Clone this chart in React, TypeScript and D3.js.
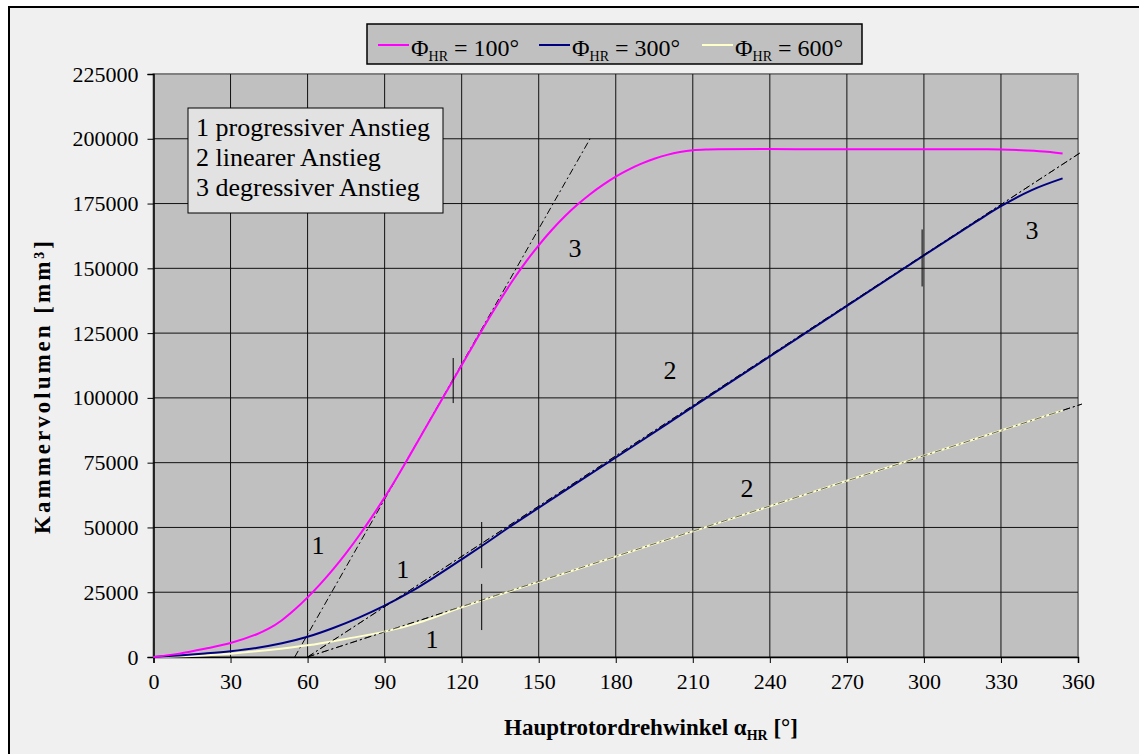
import React, { useRef, useEffect } from 'react';
import * as d3 from 'd3';

// Φ_HR = 100°
const anglesPink = [0, 10, 20, 30, 40, 45, 50, 55, 60, 65, 70, 75, 80, 85, 90, 95, 100, 105, 110, 115, 120, 125, 130, 135, 140, 145, 150, 155, 160, 165, 170, 175, 180, 185, 190, 195, 200, 205, 210, 215, 220, 250, 280, 310, 325, 330, 340, 348, 354];
const volumesPink = [0, 1300, 3200, 5400, 8700, 11000, 14200, 18300, 23000, 28200, 33900, 40100, 46800, 54000, 61600, 69700, 78200, 86800, 95400, 104000, 112600, 121200, 129700, 137800, 145500, 152500, 158900, 164700, 169900, 174500, 178600, 182200, 185400, 188100, 190400, 192300, 193800, 194900, 195600, 195900, 196000, 196000, 196000, 196000, 196000, 195900, 195500, 195000, 194300];

// Φ_HR = 300°
const anglesBlue = [0, 10, 20, 30, 40, 50, 60, 70, 80, 90, 100, 110, 120, 130, 140, 180, 210, 240, 270, 300, 320, 330, 342, 354];
const volumesBlue = [0, 600, 1350, 2250, 3500, 5300, 7800, 11200, 15200, 19800, 25100, 31200, 37700, 44300, 51100, 77000, 96500, 116000, 135500, 155000, 167800, 174000, 180200, 184700];

// Φ_HR = 600°
const anglesYellow = [0, 15, 30, 45, 60, 75, 90, 105, 120, 150, 180, 210, 240, 270, 300, 330, 354];
const volumesYellow = [0, 400, 1300, 2700, 4500, 7000, 9800, 13800, 19200, 29000, 38800, 48500, 58200, 68000, 77700, 87400, 95200];

const seriesNames = ['100°', '300°', '600°'];
const seriesColors = ['#ff00ff', '#000080', '#ffffcc'];

// tangents (dash-dot), [x0, y0, x1, y1]
const tangents = [
  [55, 0, 170, 200000],
  [60, 0, 361.5, 195000],
  [60, 0, 361.5, 97600],
];

// short vertical markers, [x, y0, y1]
const markers = [
  [116.7, 98000, 115400],
  [127.8, 34300, 52100],
  [127.8, 10400, 28200],
  [299.3, 143000, 165000],
];

// phase numbers on the curves
const phaseText = ['1', '1', '1', '3', '2', '2', '3'];
const phaseX = [64.1, 97.1, 108.4, 164.1, 201.1, 231.1, 342.1];
const phaseY = [43200, 33600, 6600, 157800, 110700, 65200, 164700];

const noteLines = ['1 progressiver Anstieg', '2 linearer Anstieg', '3 degressiver Anstieg'];

const xTicks = d3.range(0, 361, 30);
const yTicks = d3.range(0, 225001, 25000);

const font = '"Liberation Serif", "Times New Roman", serif';

const App = () => {
  const xAxisRef = useRef(null);
  const yAxisRef = useRef(null);

  const left = 153.5, right = 1078, top = 74, bottom = 657;
  const x = d3.scaleLinear().domain([0, 360]).range([left, right]);
  const y = d3.scaleLinear().domain([0, 225000]).range([bottom, top]);

  const lineGen = d3.line()
    .x(d => x(d[0]))
    .y(d => y(d[1]))
    .curve(d3.curveCatmullRom.alpha(0.5));

  const series = [
    anglesPink.map((a, i) => [a, volumesPink[i]]),
    anglesBlue.map((a, i) => [a, volumesBlue[i]]),
    anglesYellow.map((a, i) => [a, volumesYellow[i]]),
  ];

  useEffect(() => {
    const xa = d3.select(xAxisRef.current);
    xa.call(d3.axisBottom(x).tickValues(xTicks).tickSize(6).tickPadding(10).tickFormat(d3.format('d')));
    xa.attr('font-family', font);
    xa.select('.domain').attr('stroke', '#000').attr('stroke-width', 1.5);
    xa.selectAll('text').attr('font-size', 22).attr('font-family', font).attr('fill', '#000');

    const ya = d3.select(yAxisRef.current);
    ya.call(d3.axisLeft(y).tickValues(yTicks).tickSize(6).tickPadding(9).tickFormat(d3.format('d')));
    ya.attr('font-family', font);
    ya.select('.domain').attr('stroke', '#000').attr('stroke-width', 1.5);
    ya.selectAll('text').attr('font-size', 22).attr('font-family', font).attr('fill', '#000');
  }, []);

  const legendX = [378, 539, 702];

  return (
    <svg width={1139} height={754} style={{ position: 'absolute', left: 0, top: 0, background: '#fff' }} fontFamily={font}>
      <rect x={9} y={7} width={1150} height={770} fill="#f0f0f0" stroke="#000" strokeWidth={2} />

      <rect x={left} y={top} width={right - left} height={bottom - top} fill="#c0c0c0" stroke="#808080" strokeWidth={2} />

      <g>
        {xTicks.slice(1, -1).map(t => (
          <line key={'gx' + t} x1={x(t)} x2={x(t)} y1={top} y2={bottom} stroke="#111" strokeWidth={1} />
        ))}
        {yTicks.slice(1, -1).map(t => (
          <line key={'gy' + t} x1={left} x2={right} y1={y(t)} y2={y(t)} stroke="#111" strokeWidth={1} />
        ))}
      </g>

      <g ref={xAxisRef} transform={`translate(0,${bottom})`} />
      <g ref={yAxisRef} transform={`translate(${left},0)`} />

      {tangents.map((t, i) => (
        <line key={'t' + i} x1={x(t[0])} y1={y(t[1])} x2={x(t[2])} y2={y(t[3])}
          stroke="#000" strokeWidth={1} strokeDasharray="7,3,2,3" />
      ))}

      {[2, 1, 0].map(i => (
        <path key={'s' + i} d={lineGen(series[i])} fill="none" stroke={seriesColors[i]} strokeWidth={2} />
      ))}

      {tangents.slice(1).map((t, i) => (
        <line key={'to' + i} x1={x(t[0])} y1={y(t[1])} x2={x(t[2])} y2={y(t[3])}
          stroke="#000" strokeWidth={1} strokeDasharray="7,3,2,3" opacity={0.6} />
      ))}

      {markers.map((m, i) => (
        <line key={'m' + i} x1={x(m[0])} x2={x(m[0])} y1={y(m[1])} y2={y(m[2])} stroke="#000" strokeWidth={1} />
      ))}

      {phaseText.map((t, i) => (
        <text key={'p' + i} x={x(phaseX[i])} y={y(phaseY[i])} fontSize={26} textAnchor="middle" dominantBaseline="central">{t}</text>
      ))}

      <rect x={188} y={108} width={255} height={105} fill="#e2e2e2" stroke="#000" strokeWidth={1} />
      {noteLines.map((t, i) => (
        <text key={'n' + i} x={196} y={136 + i * 30} fontSize={26}>{t}</text>
      ))}

      <rect x={367} y={24} width={495} height={40} fill="#c0c0c0" stroke="#000" strokeWidth={1.5} />
      {seriesNames.map((n, i) => (
        <g key={'l' + i}>
          <line x1={legendX[i]} x2={legendX[i] + 31} y1={45} y2={45} stroke={seriesColors[i]} strokeWidth={2} />
          <text x={legendX[i] + 33} y={56} fontSize={24}>
            <tspan>Φ</tspan>
            <tspan fontSize={14} dy={5}>HR</tspan>
            <tspan dy={-5}>{' = ' + n}</tspan>
          </text>
        </g>
      ))}

      <text x={651} y={735} fontSize={23} fontWeight="bold" textAnchor="middle">
        <tspan>Hauptrotordrehwinkel α</tspan>
        <tspan fontSize={14} dy={5}>HR</tspan>
        <tspan dy={-5}> [°]</tspan>
      </text>

      <text transform="translate(50,386) rotate(-90)" fontSize={23} fontWeight="bold" textAnchor="middle" letterSpacing={3}>
        Kammervolumen [mm³]
      </text>
    </svg>
  );
};

export default App;
